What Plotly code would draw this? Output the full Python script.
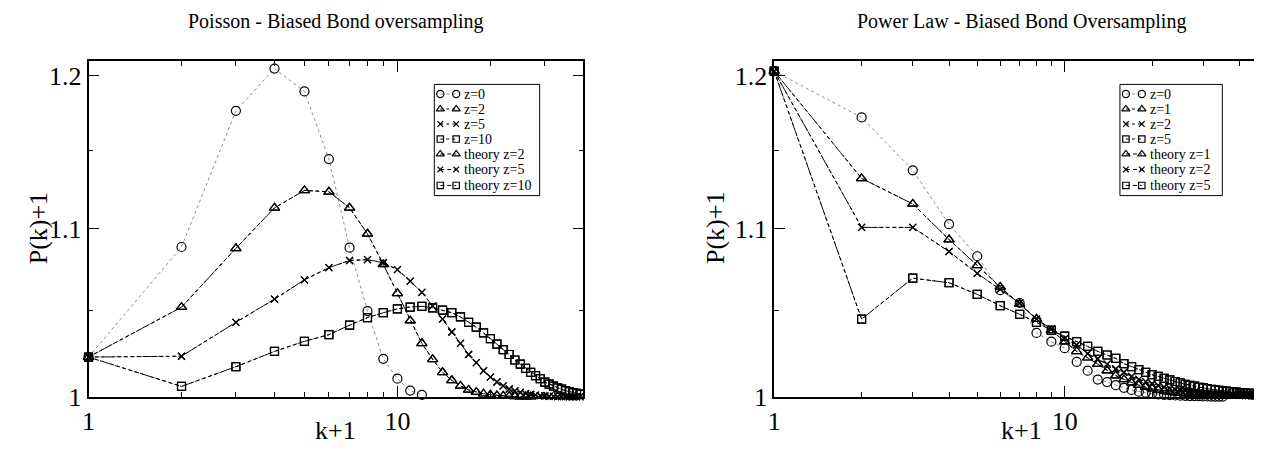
import plotly.graph_objects as go
from plotly.subplots import make_subplots

# ---- Poisson panel: P(k)+1, k+1 = 1, 2, 3, ...
poisson_z0 = [1.0228, 1.0888, 1.1764, 1.2050, 1.1894, 1.1446, 1.0884, 1.0499,
              1.0218, 1.0103, 1.0035, 1.0011]
poisson_z2 = [1.0228, 1.0522, 1.0880, 1.1133, 1.1244, 1.1235, 1.1133, 1.0970,
              1.0781, 1.0605, 1.0442, 1.0308, 1.0215, 1.0140, 1.0094, 1.0062,
              1.0039, 1.0026, 1.0017, 1.0011, 1.0007, 1.0005, 1.0003, 1.0002,
              1.0001, 1.0001, 1.0000]
poisson_z5 = [1.0228, 1.0233, 1.0432, 1.0570, 1.0687, 1.0761, 1.0805, 1.0810,
              1.0791, 1.0749, 1.0679, 1.0611, 1.0530, 1.0451, 1.0375, 1.0308,
              1.0243, 1.0196, 1.0149, 1.0112, 1.0084, 1.0062, 1.0044, 1.0033,
              1.0025, 1.0018, 1.0013, 1.0009, 1.0006, 1.0004, 1.0003, 1.0002,
              1.0001, 1.0001, 1.0001, 1.0000, 1.0000, 1.0000, 1.0000, 1.0000]
poisson_z10 = [1.0228, 1.0059, 1.0172, 1.0261, 1.0320, 1.0359, 1.0415, 1.0460,
               1.0489, 1.0512, 1.0523, 1.0527, 1.0518, 1.0505, 1.0489, 1.0464,
               1.0432, 1.0403, 1.0369, 1.0336, 1.0303, 1.0271, 1.0243, 1.0211,
               1.0187, 1.0162, 1.0140, 1.0121, 1.0103, 1.0084, 1.0072, 1.0061,
               1.0051, 1.0043, 1.0035, 1.0029, 1.0024, 1.0019, 1.0015, 1.0012]

# ---- Power law panel
power_z0 = [1.2032, 1.1720, 1.1373, 1.1030, 1.0831, 1.0624, 1.0547, 1.0369,
            1.0318, 1.0280, 1.0200, 1.0149, 1.0098, 1.0084, 1.0066, 1.0051,
            1.0039, 1.0029, 1.0023, 1.0018, 1.0014, 1.0011, 1.0009, 1.0007,
            1.0006, 1.0005, 1.0004, 1.0003, 1.0003, 1.0002, 1.0002, 1.0001,
            1.0001, 1.0001, 1.0001]
power_z1 = [1.2032, 1.1321, 1.1158, 1.0934, 1.0775, 1.0644, 1.0541, 1.0451,
            1.0384, 1.0318, 1.0261, 1.0224, 1.0187, 1.0149, 1.0121, 1.0099,
            1.0081, 1.0066, 1.0055, 1.0046, 1.0039, 1.0033, 1.0028, 1.0024,
            1.0021, 1.0018, 1.0016, 1.0014, 1.0012, 1.0011, 1.0010, 1.0009,
            1.0008, 1.0007, 1.0006, 1.0006, 1.0005, 1.0005, 1.0004, 1.0004,
            1.0003, 1.0003, 1.0003, 1.0003, 1.0002, 1.0002, 1.0002, 1.0002,
            1.0002, 1.0002]
power_z2 = [1.2032, 1.1010, 1.1010, 1.0860, 1.0726, 1.0630, 1.0547, 1.0451,
            1.0393, 1.0336, 1.0299, 1.0248, 1.0218, 1.0187, 1.0159, 1.0140,
            1.0116, 1.0099, 1.0086, 1.0074, 1.0064, 1.0055, 1.0048, 1.0042,
            1.0037, 1.0033, 1.0029, 1.0026, 1.0023, 1.0021, 1.0019, 1.0017,
            1.0015, 1.0014, 1.0013, 1.0012, 1.0011, 1.0010, 1.0009, 1.0008,
            1.0008, 1.0007, 1.0007, 1.0006, 1.0006, 1.0005, 1.0005, 1.0005,
            1.0004, 1.0004]
power_z5 = [1.2032, 1.0451, 1.0697, 1.0669, 1.0599, 1.0531, 1.0479, 1.0432,
            1.0384, 1.0350, 1.0318, 1.0290, 1.0261, 1.0240, 1.0220, 1.0190,
            1.0172, 1.0155, 1.0140, 1.0126, 1.0116, 1.0105, 1.0096, 1.0087,
            1.0080, 1.0070, 1.0065, 1.0060, 1.0054, 1.0050, 1.0046, 1.0042,
            1.0039, 1.0037, 1.0034, 1.0032, 1.0030, 1.0028, 1.0026, 1.0024,
            1.0023, 1.0021, 1.0020, 1.0019, 1.0018, 1.0017, 1.0016, 1.0015,
            1.0014, 1.0013]

poisson_labels = ['z=0', 'z=2', 'z=5', 'z=10', 'theory z=2', 'theory z=5', 'theory z=10']
power_labels = ['z=0', 'z=1', 'z=2', 'z=5', 'theory z=1', 'theory z=2', 'theory z=5']

FONT = 'Liberation Serif, Times New Roman, serif'
SYMBOLS = {'circle': 'circle-open', 'triangle': 'triangle-up-open',
           'x': 'x-thin-open', 'square': 'square-open'}
SIZES = {'circle': 9, 'triangle': 9, 'x': 7, 'square': 8}
LINES = {'gray': dict(color='#8c8c8c', width=1, dash='dot'),
         'dot': dict(color='black', width=1, dash='dot'),
         'dash': dict(color='black', width=1, dash='4px,3px')}

# (shape, line style) for the 7 entries of each panel, same order as labels
STYLES = [('circle', 'gray'), ('triangle', 'dot'), ('x', 'dot'), ('square', 'dot'),
          ('triangle', 'dash'), ('x', 'dash'), ('square', 'dash')]


def kplus1(values):
    return list(range(1, len(values) + 1))


def marker(shape, scale=1.0):
    return dict(symbol=SYMBOLS[shape], size=SIZES[shape] * scale, color='black',
                line=dict(color='black', width=1.2))


W, H = 1262, 455
left_px = (74, 572)
right_px = (764, 1261)
top_px, bottom_px = 55, 402

fig = make_subplots(rows=1, cols=2)

panels = [
    (1, [poisson_z0, poisson_z2, poisson_z5, poisson_z10, poisson_z2, poisson_z5, poisson_z10]),
    (2, [power_z0, power_z1, power_z2, power_z5, power_z1, power_z2, power_z5]),
]
for col, series in panels:
    for values, (shape, style) in zip(series, STYLES):
        fig.add_trace(go.Scatter(
            x=kplus1(values), y=values, mode='lines+markers',
            line=LINES[style], marker=marker(shape), cliponaxis=False,
            showlegend=False,
        ), row=1, col=col)

# ---- hand-drawn legends (grace style: marker..marker label), in a pixel overlay axis
legend_boxes = [(422, 528, poisson_labels), (1112, 1215, power_labels)]
legend_top, legend_bottom = 79, 194
row_offsets = [10, 25.5, 41, 56.5, 72, 88, 104.5]

shapes = []
annotations = []
for x0, x1, labels in legend_boxes:
    shapes.append(dict(type='rect', xref='x3', yref='y3', x0=x0, x1=x1,
                       y0=legend_top, y1=legend_bottom, layer='below',
                       line=dict(color='black', width=1), fillcolor='white'))
    for label, (shape, style), dy in zip(labels, STYLES, row_offsets):
        yy = legend_top + dy
        fig.add_trace(go.Scatter(
            x=[x0 + 6, x0 + 22], y=[yy, yy], mode='lines+markers',
            line=LINES[style], marker=marker(shape, 0.8), showlegend=False,
            hoverinfo='skip', xaxis='x3', yaxis='y3', cliponaxis=False,
        ))
        annotations.append(dict(text=label, x=x0 + 29, y=yy, xref='x3', yref='y3',
                                xanchor='left', yanchor='middle', showarrow=False,
                                borderpad=0,
                                font=dict(family=FONT, size=14, color='black')))

axis_common = dict(
    type='log', showline=True, linecolor='black', linewidth=1.5, mirror='ticks',
    ticks='inside', ticklen=11, tickwidth=1, tickcolor='black',
    showgrid=False, zeroline=False,
    tickfont=dict(family=FONT, size=26, color='black'),
)
minor_x = dict(ticks='inside', ticklen=5, tickwidth=1, tickcolor='black',
               tickvals=[2, 3, 4, 5, 6, 7, 8, 9, 20, 30, 40])

fig.update_xaxes(**axis_common, tickvals=[1, 10], ticktext=['1', '10'], minor=minor_x)
fig.update_xaxes(range=[0, 1.602], domain=[left_px[0] / W, left_px[1] / W], row=1, col=1)
fig.update_xaxes(range=[0, 1.70], domain=[right_px[0] / W, right_px[1] / W], row=1, col=2)
fig.update_yaxes(**axis_common, tickvals=[1, 1.1, 1.2], ticktext=['1', '1.1', '1.2'],
                 range=[0, 0.0828],
                 domain=[1 - bottom_px / H, 1 - top_px / H],
                 minor=dict(ticks='inside', ticklen=5, tickwidth=1, tickcolor='black',
                            tickvals=[1.05, 1.15]))

titles = ['Poisson - Biased Bond oversampling', 'Power Law - Biased Bond Oversampling']
for text, (a, b) in zip(titles, (left_px, right_px)):
    annotations.append(dict(text=text, x=(a + b) / 2, y=14, xref='x3', yref='y3',
                            xanchor='center', yanchor='middle', showarrow=False,
                            font=dict(family=FONT, size=20, color='black')))
    annotations.append(dict(text='k+1', x=(a + b) / 2, y=437, xref='x3', yref='y3',
                            xanchor='center', yanchor='middle', showarrow=False,
                            font=dict(family=FONT, size=26, color='black')))
for cx in (24, 705):
    annotations.append(dict(text='P(k)+1', x=cx, y=228, xref='x3', yref='y3',
                            textangle=-90, xanchor='center', yanchor='middle',
                            showarrow=False,
                            font=dict(family=FONT, size=26, color='black')))

fig.update_layout(
    width=W, height=H,
    margin=dict(l=0, r=0, t=0, b=0),
    paper_bgcolor='white', plot_bgcolor='rgba(0,0,0,0)',
    showlegend=False,
    xaxis3=dict(domain=[0, 1], range=[0, W], visible=False, anchor='y3', fixedrange=True),
    yaxis3=dict(domain=[0, 1], range=[H, 0], visible=False, anchor='x3', fixedrange=True),
    shapes=shapes,
    annotations=annotations,
)

fig.write_html("out.html")
